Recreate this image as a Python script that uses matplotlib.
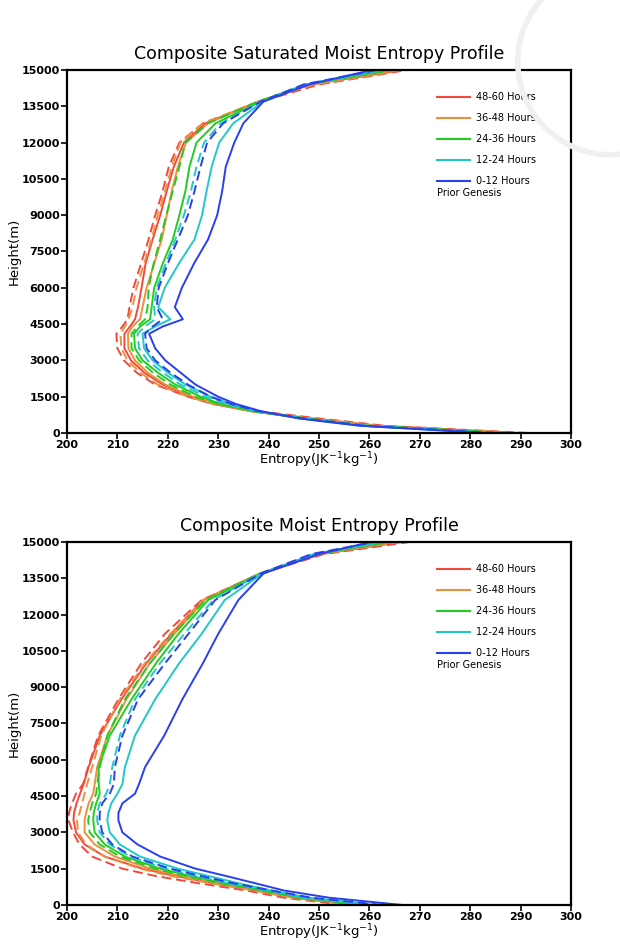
import matplotlib.pyplot as plt
import numpy as np
from matplotlib.patches import Ellipse

# heights (m) used for the saturated moist entropy panel
h_sat = [0, 300, 600, 900, 1200, 1500, 2000, 2500, 3000, 3500, 4100, 4400, 4700,
         5200, 6000, 7000, 8000, 9000, 10000, 11000, 12000, 12800, 13700, 14400, 15000, 15300]

# saturated moist entropy, solid / dashed per period
sat_4860 = [289, 261, 248, 236.5, 229, 224.5, 219, 215.3, 212.7, 211.4, 211.4, 212.5, 213.5,
            214.1, 214.8, 215.6, 217, 218.5, 219.8, 221.2, 223.2, 227.5, 238, 248.5, 266.5, 270]
sat_4860d = [291.5, 263, 250, 238, 229, 224, 217.5, 213.8, 211.3, 210, 209.8, 211, 212,
             212.4, 213.2, 214.7, 216.2, 217.5, 219, 220.2, 222.3, 227, 238.5, 250, 267.5, 271]
sat_3648 = [288, 260.5, 247.5, 236.5, 229.5, 225, 219.5, 216, 213.5, 212.2, 212.1, 213, 214.5,
            215, 215.8, 217.3, 218.8, 219.8, 220.8, 222, 223.6, 228, 238, 248, 265.5, 269]
sat_3648d = [290, 262, 249, 237, 229, 224, 218, 214.5, 212, 210.8, 210.6, 211.5, 212.2,
             213, 213.8, 215.3, 216.8, 218, 219.5, 220.8, 222.5, 227, 238, 249, 266.5, 270]
sat_2436 = [286.5, 259.5, 247, 237, 230.5, 226.5, 221.5, 218, 215, 213.5, 213.3, 214.5, 216.5,
            216.8, 217.3, 219, 221, 222.3, 223.5, 224.3, 225.7, 229.5, 238.5, 247.5, 264, 268]
sat_2436d = [287.5, 260, 247.5, 237, 230, 225.5, 220.5, 217, 214.3, 212.8, 212.8, 214, 215.5,
             216, 216.2, 217.2, 218.5, 219.7, 221, 222.3, 223.5, 228, 238, 247.5, 264.5, 268.5]
sat_1224 = [284, 258.5, 246.5, 238, 232.5, 228.5, 223.5, 220, 217, 215.3, 215, 217.5, 220.5,
            218.1, 219.4, 222.2, 225.3, 226.8, 227.7, 228.7, 230.2, 233, 239, 247.5, 262, 266.5]
sat_1224d = [286, 259.5, 247, 237.5, 231.5, 227.5, 222.5, 219, 216, 214.3, 214, 215.5, 217.5,
             217.3, 217.8, 219.6, 221.5, 223.2, 224.6, 225.7, 227.2, 230.5, 238.5, 247, 263, 267]
sat_0012 = [283, 258, 246, 238.5, 233.5, 230, 225.5, 222.5, 219.5, 217.5, 216.3, 219, 223,
            221.4, 222.8, 225.2, 228, 229.8, 230.8, 231.5, 233.2, 235, 239, 248, 260.5, 265]
sat_0012d = [285, 259, 247, 238, 232.5, 228.5, 224, 220.5, 217.5, 215.8, 215.5, 217, 219,
             217.8, 218.2, 220, 222, 224, 225.3, 226.5, 227.8, 231, 238.5, 247, 261.5, 266]

# heights (m) used for the moist entropy panel
h_me = [0, 300, 600, 900, 1200, 1500, 2000, 2500, 3000, 3500, 3800, 4200, 4600, 5000,
        5700, 7000, 8500, 10000, 11200, 12600, 13700, 14500, 15000, 15300]

me_4860 = [257, 245, 237.5, 229, 221.5, 215, 207.5, 203.5, 201.8, 201.3, 201.4, 201.9, 202.6, 203.3,
           204.3, 206.5, 210.8, 215.8, 220.7, 227, 238.3, 250.5, 266.5, 270.5]
me_4860d = [255, 243, 235.5, 226, 217.5, 211, 205, 202.5, 201.2, 200.3, 200.4, 201, 201.8, 203.2,
            204.2, 206.2, 210.2, 214.8, 219.4, 226.7, 238.5, 251, 268, 271.5]
me_3648 = [257.5, 245.5, 238, 230, 222.5, 216.5, 209.5, 205.5, 203.5, 203.5, 203.8, 204.3, 205.2, 205.5,
           206, 208, 211.8, 216.5, 221.3, 227.3, 238.3, 250, 265, 269]
me_3648d = [256.5, 244.5, 237, 228.5, 220.5, 214.5, 207.5, 203.8, 202.2, 202, 202.5, 203, 203.5, 204,
            205, 206.8, 210.5, 215.5, 220.5, 227, 238.3, 250, 266, 270]
me_2436 = [259, 246.5, 239, 231.5, 224.5, 218.5, 211.5, 207.5, 205.5, 205.2, 205.3, 205.8, 206.5, 206.3,
           206.3, 208.5, 212.8, 217.7, 222.1, 228, 238.5, 249.5, 263.5, 267.5]
me_2436d = [258, 246, 238.5, 230.5, 223.5, 217.5, 210.5, 206.5, 204.5, 204.2, 204.5, 205, 205.8, 206,
            206.5, 208, 211.5, 216.5, 221.2, 227.5, 238.3, 249.5, 264, 268]
me_1224 = [261.5, 248, 240.5, 234, 228, 222, 214.5, 210.5, 208.5, 208, 208.2, 208.8, 210, 211,
           211.5, 213.5, 217.5, 222.3, 226.7, 231.3, 238.8, 249, 262, 266]
me_1224d = [260, 247, 239.5, 232, 225.5, 219.5, 212.5, 208.5, 206.5, 206, 206, 206.5, 207.8, 208.5,
            209, 210.5, 213.5, 218.5, 223.3, 229, 238.5, 249, 262.5, 267]
me_0012 = [266.5, 252, 243, 237.3, 231.5, 225.5, 218.5, 214, 211, 210.2, 210.2, 211, 213.5, 214.3,
           215.5, 219.3, 222.9, 227, 230, 234, 239, 250, 260.3, 265]
me_0012d = [262.5, 248.5, 240.5, 233, 226.5, 220.5, 213, 209, 207, 206.5, 206.5, 207, 208.5, 209.3,
            209.5, 211, 214.1, 219.5, 224.1, 229.4, 238.5, 248.5, 261, 265.5]

periods = ['48-60 Hours', '36-48 Hours', '24-36 Hours', '12-24 Hours', '0-12 Hours']
colors = ['#f04a3c', '#ec9040', '#22cc22', '#22c8c8', '#2840ee']

sat_solid = [sat_4860, sat_3648, sat_2436, sat_1224, sat_0012]
sat_dash = [sat_4860d, sat_3648d, sat_2436d, sat_1224d, sat_0012d]
me_solid = [me_4860, me_3648, me_2436, me_1224, me_0012]
me_dash = [me_4860d, me_3648d, me_2436d, me_1224d, me_0012d]

xticks = np.arange(200, 301, 10)
yticks = np.arange(0, 15001, 1500)

fig = plt.figure(figsize=(6.2, 9.51), dpi=100)

# faint seal watermark in the corner
fig.patches.append(Ellipse((0.985, 0.935), 0.30, 0.30 * 620 / 951, transform=fig.transFigure,
                           facecolor='none', edgecolor='#f0f0f0', lw=4, zorder=0))


def draw_panel(ax, heights, solid, dashed, title):
    for c, s, d in zip(colors, solid, dashed):
        ax.plot(d, heights, color=c, lw=1.4, linestyle=(0, (5, 2.5)))
        ax.plot(s, heights, color=c, lw=1.4)
    ax.set_xlim(200, 300)
    ax.set_ylim(0, 15000)
    ax.set_xticks(xticks)
    ax.set_yticks(yticks)
    ax.tick_params(direction='out', length=4, width=1.2, labelsize=8, pad=1)
    for lab in ax.get_xticklabels() + ax.get_yticklabels():
        lab.set_fontweight('bold')
    for sp in ax.spines.values():
        sp.set_linewidth(1.6)
    ax.set_title(title, fontsize=12.5, pad=8)
    ax.set_ylabel('Height(m)', fontsize=9.5, labelpad=1)
    ax.set_xlabel('Entropy(JK$^{-1}$kg$^{-1}$)', fontsize=9.5, labelpad=0)
    # legend drawn by hand like the original
    ys = [0.926, 0.868, 0.810, 0.752, 0.694]
    for c, lab, y in zip(colors, periods, ys):
        ax.plot([0.734, 0.80], [y, y], color=c, lw=1.5, transform=ax.transAxes)
        ax.text(0.812, y, lab, transform=ax.transAxes, fontsize=7,
                va='center', ha='left')
    ax.text(0.734, 0.661, 'Prior Genesis', transform=ax.transAxes, fontsize=7,
            va='center', ha='left')


ax1 = fig.add_axes([0.108, 0.5447, 0.813, 0.3817])
draw_panel(ax1, h_sat, sat_solid, sat_dash, 'Composite Saturated Moist Entropy Profile')

ax2 = fig.add_axes([0.108, 0.0484, 0.813, 0.3817])
draw_panel(ax2, h_me, me_solid, me_dash, 'Composite Moist Entropy Profile')

fig.savefig('out.png', dpi=100)
